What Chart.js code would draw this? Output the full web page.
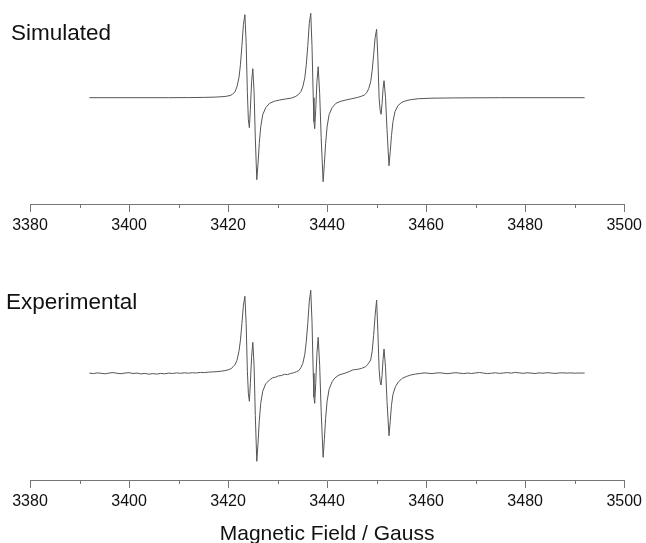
<!DOCTYPE html>
<html>
<head>
<meta charset="utf-8">
<script src="https://cdn.jsdelivr.net/npm/chart.js@4.4.1/dist/chart.umd.min.js"></script>
<style>
  body { margin: 0; background: #fff; }
  .wrap { position: relative; width: 646px; height: 543px; }
  canvas { position: absolute; left: 0; }
  #sim { top: 0; }
  #exp { top: 260px; }
</style>
</head>
<body>
<div class="wrap">
  <canvas id="sim" width="646" height="250"></canvas>
  <canvas id="exp" width="646" height="283"></canvas>
</div>
<script>
// axis labels (Gauss)
const tickLabels = [3380, 3400, 3420, 3440, 3460, 3480, 3500];
const minorTicks = [3390, 3410, 3430, 3450, 3470, 3490];

// simulated spectrum: field (G) and first-derivative signal (arb. units)
const simField = [
  3392, 3400, 3408, 3412, 3415, 3417.4, 3419.4, 3420.4, 3420.9, 3421.4,
  3421.8, 3422.2, 3422.5, 3422.8, 3423.1, 3423.4, 3423.65, 3423.9, 3424.1, 3424.3,
  3424.5, 3424.75, 3425.0, 3425.25, 3425.5, 3425.8, 3426.05, 3426.3, 3426.6, 3427.0,
  3427.6, 3428.4, 3429.4, 3430.4, 3431.6, 3432.8, 3433.7, 3434.2, 3434.7, 3435.1,
  3435.5, 3435.8, 3436.1, 3436.4, 3436.7, 3436.95, 3437.2, 3437.35, 3437.5, 3437.7,
  3437.95, 3438.2, 3438.5, 3438.8, 3439.2, 3439.45, 3439.7, 3440.0, 3440.4, 3441.0,
  3441.8, 3442.8, 3443.8, 3445.0, 3446.2, 3447.0, 3447.5, 3448.0, 3448.4, 3448.8,
  3449.1, 3449.4, 3449.7, 3450.0, 3450.25, 3450.5, 3450.7, 3450.9, 3451.1, 3451.3,
  3451.5, 3451.8, 3452.1, 3452.5, 3452.75, 3453.0, 3453.3, 3453.7, 3454.3, 3455.1,
  3456.1, 3457.1, 3458.5, 3461.0, 3466.0, 3475.0, 3492.0
];
const simSignal = [
  0, 0, 0, 0.1, 0.3, 0.6, 1.2, 2.2, 3.4, 6,
  11, 20, 33, 52, 73, 83, 55, 5, -22, -30,
  -12, 16, 29, 6, -40, -82, -66, -46, -29, -17,
  -10, -5.5, -3.5, -2.3, -1.3, -0.4, 1.4, 3.2, 6, 11,
  20, 33, 52, 74, 84.4, 52, 0, -24, -31, -12,
  16, 31, 4, -40, -84, -66, -46, -29, -17, -10,
  -5.5, -3.5, -2.3, -1.0, 0.3, 1.6, 2.6, 5, 9, 16,
  27, 43, 60, 68.4, 40, 0, -12, -16.6, -6, 9,
  17, 0, -32, -68, -54, -38, -24, -14, -8, -4.5,
  -2.8, -1.8, -1.0, -0.5, -0.2, 0, 0
];

// recorded spectrum
const expField = [
  3392.0, 3392.8, 3393.6, 3394.4, 3395.2, 3396.0, 3396.8, 3397.6, 3398.4, 3399.2,
  3400.0, 3400.8, 3401.6, 3402.4, 3403.2, 3404.0, 3404.8, 3405.6, 3406.4, 3407.2,
  3408.0, 3408.8, 3409.6, 3410.4, 3411.2, 3412.0, 3412.8, 3413.6, 3414.4, 3415.2,
  3416.0, 3416.8, 3417.6, 3418.4, 3419.2, 3420.0, 3420.6, 3421.0, 3421.4, 3421.8,
  3422.2, 3422.5, 3422.8, 3423.1, 3423.4, 3423.65, 3423.9, 3424.1, 3424.3, 3424.5,
  3424.75, 3425.0, 3425.25, 3425.5, 3425.8, 3426.05, 3426.3, 3426.6, 3427.0, 3427.6,
  3428.4, 3429.0, 3429.6, 3430.2, 3430.8, 3431.4, 3432.0, 3432.6, 3433.2, 3433.8,
  3434.3, 3434.7, 3435.1, 3435.5, 3435.8, 3436.1, 3436.4, 3436.7, 3436.95, 3437.2,
  3437.35, 3437.5, 3437.7, 3437.95, 3438.2, 3438.5, 3438.8, 3439.2, 3439.45, 3439.7,
  3440.0, 3440.4, 3441.0, 3441.6, 3442.4, 3443.2, 3444.0, 3444.6, 3445.1, 3445.8,
  3446.4, 3447.0, 3447.5, 3447.8, 3448.2, 3448.5, 3448.8, 3449.1, 3449.4, 3449.7,
  3450.0, 3450.25, 3450.5, 3450.7, 3450.9, 3451.1, 3451.3, 3451.5, 3451.8, 3452.1,
  3452.5, 3452.75, 3453.0, 3453.3, 3453.8, 3454.4, 3455.2, 3456.0, 3456.8, 3457.9,
  3458.8, 3459.6, 3460.4, 3461.2, 3462.0, 3462.8, 3463.6, 3464.4, 3465.2, 3466.0,
  3466.8, 3467.6, 3468.4, 3469.2, 3470.0, 3470.8, 3471.6, 3472.4, 3473.2, 3474.0,
  3474.8, 3475.6, 3476.4, 3477.2, 3478.0, 3478.8, 3479.6, 3480.4, 3481.2, 3482.0,
  3482.8, 3483.6, 3484.4, 3485.2, 3486.0, 3486.8, 3487.6, 3488.4, 3489.2, 3490.0,
  3490.8, 3491.6, 3492.0
];
const expSignal = [
  0.2, -0.3, 0.4, 0.0, -0.5, 0.3, 0.7, 0.0, -0.4, 0.3,
  0.6, -0.2, 0.2, -0.6, -0.1, -0.9, -0.3, -0.8, -0.1, -0.5,
  0.2, -0.2, 0.4, 0.0, 0.5, 0.1, 0.6, 0.3, 0.9, 0.7,
  1.1, 1.4, 1.6, 2.0, 2.5, 3.4, 4.6, 6.5, 8.5, 13,
  22, 33, 50, 68, 77, 50, 2, -20, -28, -10,
  16, 31, 8, -42, -88, -70, -48, -30, -18, -10.5,
  -6.5, -4.5, -3.8, -2.6, -2.2, -1.0, -1.3, -0.2, 0.4, 1.6,
  2.8, 5.5, 10, 19, 32, 50, 72, 83, 52, 0,
  -24, -30, -10, 20, 36, 8, -38, -84, -66, -45,
  -28, -16, -8.5, -4.5, -1.7, -0.5, 0.8, 2.0, 3.3, 3.8,
  4.2, 5.0, 6.0, 6.6, 9, 11, 13.3, 22, 38, 58,
  73.3, 42, 4, -8, -11.7, -2, 14, 24.3, 6, -28,
  -62.4, -48, -32, -21, -13.4, -8.5, -5, -3.2, -1.8, -0.7,
  -0.2, 0.4, 0.1, -0.3, 0.3, 0.5, 0.0, -0.4, 0.2, 0.6,
  0.1, -0.3, 0.3, -0.2, 0.4, 0.8, 0.2, -0.3, 0.1, 0.5,
  -0.1, 0.3, 0.7, 0.2, 0.9, 0.4, 0.0, 0.5, 0.2, -0.2,
  0.4, 0.1, 0.6, 0.3, -0.1, 0.3, 0.5, 0.2, 0.4, 0.1,
  0.3, 0.2, 0.2
];

const FONT = '"Liberation Sans", Arial, sans-serif';
const axisColor = '#767676';
const traceColor = '#555555';

// short minor ticks + panel name
const panelDecor = {
  id: 'panelDecor',
  afterDraw(chart, args, opts) {
    const ctx = chart.ctx;
    const xs = chart.scales.x;
    ctx.save();
    ctx.strokeStyle = axisColor;
    ctx.lineWidth = 1;
    ctx.beginPath();
    minorTicks.forEach(v => {
      const px = Math.round(xs.getPixelForValue(v)) + 0.5;
      ctx.moveTo(px, Math.round(xs.top));
      ctx.lineTo(px, Math.round(xs.top) + 4);
    });
    ctx.stroke();
    ctx.fillStyle = '#111';
    ctx.font = '22.5px ' + FONT;
    ctx.textBaseline = 'alphabetic';
    ctx.fillText(opts.text, opts.x, opts.y);
    ctx.restore();
  }
};

function spectrumChart(id, field, signal, yMin, yMax, scaleHeight, name, nameX, nameY, withTitle) {
  return new Chart(document.getElementById(id), {
    type: 'line',
    data: {
      datasets: [{
        data: field.map((f, i) => ({ x: f, y: signal[i] })),
        borderColor: traceColor,
        borderWidth: 1,
        pointRadius: 0,
        tension: 0,
        fill: false
      }]
    },
    plugins: [panelDecor],
    options: {
      responsive: false,
      animation: false,
      events: [],
      layout: { padding: { left: 30, right: 20, top: 0, bottom: 0 } },
      scales: {
        x: {
          type: 'linear',
          min: 3380,
          max: 3500,
          afterBuildTicks: s => { s.ticks = tickLabels.map(v => ({ value: v })); },
          afterFit: s => { s.height = scaleHeight; },
          grid: { drawOnChartArea: false, tickLength: 8, color: axisColor, tickColor: axisColor, lineWidth: 1 },
          border: { display: true, color: axisColor, width: 1 },
          ticks: {
            padding: 4,
            color: '#111',
            maxRotation: 0,
            autoSkip: false,
            font: { family: FONT, size: 16 },
            callback: v => String(v)
          },
          title: {
            display: withTitle,
            text: 'Magnetic Field / Gauss',
            color: '#111',
            font: { family: FONT, size: 21 },
            padding: { top: 0, bottom: -4 }
          }
        },
        y: { display: false, min: yMin, max: yMax }
      },
      plugins: {
        legend: { display: false },
        tooltip: { enabled: false },
        panelDecor: { text: name, x: nameX, y: nameY }
      }
    }
  });
}

spectrumChart('sim', simField, simSignal, -106.3, 97.7, 46, 'Simulated', 11, 40, false);
spectrumChart('exp', expField, expSignal, -106.7, 113.3, 63, 'Experimental', 6, 49, true);
</script>
</body>
</html>
